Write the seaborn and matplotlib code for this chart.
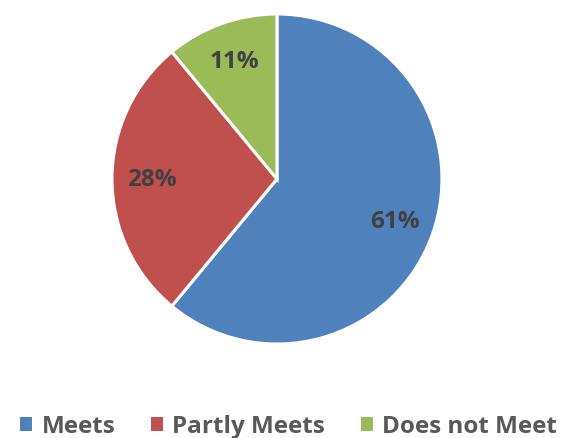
import matplotlib
matplotlib.use("Agg")
import matplotlib.pyplot as plt
import seaborn as sns

categories = ["Meets", "Partly Meets", "Does not Meet"]
values = [61, 28, 11]
colors = ["#4F81BD", "#C0504D", "#9BBB59"]

sns.set_theme(style="white")
plt.rcParams['font.family'] = ['Open Sans', 'DejaVu Sans']

fig = plt.figure(figsize=(5.64, 4.39), dpi=100)
ax = fig.add_axes([0.1986, 0.2141, 0.585, 0.7517])
wedges, texts, autotexts = ax.pie(
    values, colors=colors, startangle=90, counterclock=False,
    autopct=lambda p: f"{p:.0f}%", pctdistance=0.76,
    wedgeprops=dict(edgecolor="white", linewidth=2.2),
    textprops=dict(color="#404040", fontsize=17.5, fontweight="bold"))
ax.set_xlim(-1, 1)
ax.set_ylim(-1, 1)
ax.set_aspect("auto")
ax.axis("off")

leg = fig.legend(wedges, categories, loc="center", bbox_to_anchor=(0.51, 0.028),
                 ncol=3, frameon=False, handlelength=0.6, handleheight=0.7,
                 handletextpad=0.35, columnspacing=1.4,
                 prop=dict(size=17.5, weight="bold"))
for t in leg.get_texts():
    t.set_color("#595959")

fig.savefig("out.png", dpi=100)
